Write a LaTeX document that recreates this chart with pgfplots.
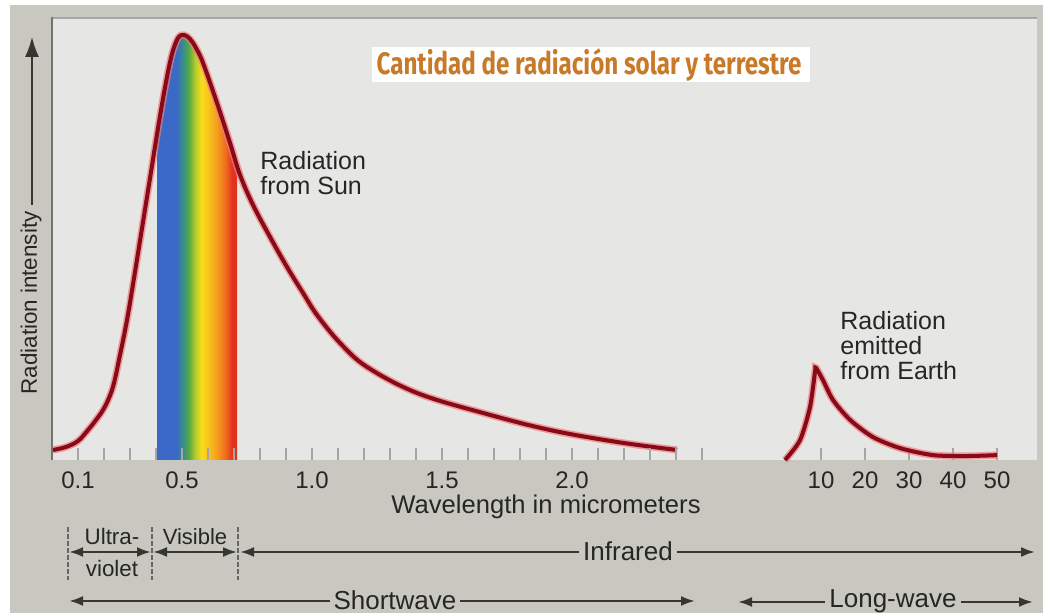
\documentclass[border=0pt]{standalone}
\usepackage{pgfplots}
\pgfplotsset{compat=1.18}
\usepackage{pgfplotstable}
\usepackage{fontspec}
\setmainfont{Liberation Sans}
\newfontfamily\titlefont[FakeStretch=0.78]{Fira Sans}
\usetikzlibrary{arrows.meta}

\definecolor{bandgray}{RGB}{200,199,192}
\definecolor{plotbg}{RGB}{230,231,228}
\definecolor{curvered}{RGB}{135,10,25}
\definecolor{halored}{RGB}{240,125,125}
\definecolor{titleorange}{RGB}{200,122,40}
\definecolor{txt}{RGB}{38,38,38}
\definecolor{linecol}{RGB}{55,55,50}
\definecolor{rbblue}{RGB}{58,105,200}
\definecolor{rbteal}{RGB}{55,140,140}
\definecolor{rbgreen}{RGB}{85,170,65}
\definecolor{rbygreen}{RGB}{185,205,45}
\definecolor{rbyellow}{RGB}{250,220,25}
\definecolor{rborange}{RGB}{245,160,30}
\definecolor{rbdorange}{RGB}{240,105,30}
\definecolor{rbred}{RGB}{225,50,30}

\pgfdeclarehorizontalshading{rainbow}{100bp}{color(0bp)=(rbblue); color(25bp)=(rbblue); color(37bp)=(rbblue); color(41bp)=(rbteal); color(45bp)=(rbgreen); color(49bp)=(rbygreen); color(53bp)=(rbyellow); color(57bp)=(rbyellow!60!rborange); color(62bp)=(rborange); color(68bp)=(rbdorange); color(72bp)=(rbred); color(75bp)=(rbred); color(100bp)=(rbred)}

% Sun curve: wavelength (micrometers) vs relative intensity
\pgfplotstableread{
x y
0.0038 2.27
0.0538 2.95
0.1000 4.31
0.1385 6.80
0.1692 9.07
0.1962 11.34
0.2192 14.06
0.2385 17.46
0.2615 23.81
0.2885 31.75
0.3192 42.63
0.3500 53.97
0.3808 65.31
0.4115 76.64
0.4385 85.71
0.4615 92.06
0.4846 95.69
0.5077 96.37
0.5308 95.46
0.5538 93.42
0.5808 90.02
0.6346 80.95
0.6846 71.88
0.7231 64.63
0.7731 57.82
0.8385 50.57
0.9038 43.76
0.9654 37.87
1.0192 32.88
1.1077 26.53
1.2115 21.09
1.4038 15.19
1.6577 10.66
1.9154 6.80
2.1731 4.08
2.4038 2.27
}\suntable

% Visible band under the sun curve
\pgfplotstableread{
x y
0.4038 73.8
0.4115 76.64
0.4385 85.71
0.4615 92.06
0.4846 95.69
0.5077 96.37
0.5308 95.46
0.5538 93.42
0.5808 90.02
0.6346 80.95
0.6846 71.88
0.7115 66.8
}\vistable

% Earth curve
\pgfplotstableread{
x y
1.82 0
5.23 4.5
7.5 12.0
8.64 20.0
8.86 20.9
10.45 18.1
12.73 13.6
16.6 9.1
21.8 5.2
27.95 2.7
35.45 1.1
43.2 0.9
50.0 1.1
}\earthtable

\begin{document}
\begin{tikzpicture}
\useasboundingbox (0,0) rectangle (523.5pt,306.5pt);
\begin{scope}[x=0.5pt,y=-0.5pt,shift={(0pt,306.5pt)}]
  \fill[white] (0,0) rectangle (1047,613);
  \fill[bandgray] (10,5) rectangle (1043,613);
  \fill[plotbg] (53,19) rectangle (1037,460);
  \draw[gray!90!black, line width=1pt] (52,17) -- (52,460);
  \draw[gray!70, line width=1.2pt] (53,18) -- (1037,18);
\end{scope}

\pgfplotsset{
  common/.style={
    at={(26.5pt,76.5pt)}, anchor=south west,
    width=492pt, height=220.5pt, scale only axis,
    ymin=0, ymax=100, clip=false,
    axis line style={draw=none},
    ytick=\empty, xtick pos=bottom,
    tick align=inside,
    major tick length=6pt, minor tick length=6pt,
    tick style={draw=gray!70, line width=0.9pt},
    xticklabel style={font=\fontsize{12}{14}\selectfont, text=txt, yshift=-2.5pt},
    /pgf/number format/assume math mode=true,
  }
}

\begin{axis}[common, axis on top,
  xmin=0.00385, xmax=3.788,
  xtick={0.1,0.5,1.0,1.5,2.0},
  xticklabels={0.1,0.5,1.0,1.5,2.0},
  minor xtick={0.2,0.3,0.4,0.6,0.7,0.8,0.9,1.1,1.2,1.3,1.4,1.6,1.7,1.8,1.9,2.1,2.2,2.3,2.4,2.5},
]
  \addplot[draw=none, shade, shading=rainbow, smooth, tension=0.6] table {\vistable} \closedcycle;
  \addplot[halored, opacity=0.7, line width=3.6pt, smooth, tension=0.6] table {\suntable};
  \addplot[curvered, line width=2pt, smooth, tension=0.6] table {\suntable};
\end{axis}

\begin{axis}[common,
  xmin=-164.545, xmax=59.091,
  xtick={10,20,30,40,50},
  xticklabels={10,20,30,40,50},
]
  \addplot[halored, opacity=0.7, line width=3.6pt, smooth, tension=0.45] table {\earthtable};
  \addplot[curvered, line width=2pt, smooth, tension=0.45] table {\earthtable};
\end{axis}

\begin{scope}[x=0.5pt,y=-0.5pt,shift={(0pt,306.5pt)}]
  % title
  \fill[white] (372,47) rectangle (810,82);
  \node[anchor=base, text=titleorange, inner sep=0pt,
        font=\titlefont\bfseries\fontsize{15.5}{17}\selectfont] at (589,75)
        {Cantidad de radiación solar y terrestre};
  % y axis arrow and label
  \draw[linecol, line width=0.8pt, -{Latex[length=10pt,width=7pt]}] (32,205) -- (32,37);
  \node[rotate=90, text=txt, font=\fontsize{11.2}{13}\selectfont] at (31,303) {Radiation intensity};
  % curve labels
  \begin{scope}[every node/.style={anchor=base west, inner sep=0pt, text=txt, font=\fontsize{12.5}{15}\selectfont}]
    \node at (260,170) {Radiation};
    \node at (260,195) {from Sun};
    \node at (840,330) {Radiation};
    \node at (840,355) {emitted};
    \node at (840,380) {from Earth};
  \end{scope}
  % x axis title
  \node[anchor=base, inner sep=0pt, text=txt, font=\fontsize{12.8}{15}\selectfont] at (546,514) {Wavelength in micrometers};
  % separators
  \foreach \xx in {68,152,238}
    \draw[gray!80!black, line width=0.6pt, dash pattern=on 2.5pt off 1pt] (\xx,527) -- (\xx,580);
  % band arrows
  \tikzset{band/.style={linecol, line width=1.2pt, {Latex[length=7pt,width=5pt]}-{Latex[length=7pt,width=5pt]}}}
  \draw[band] (69,552) -- (151,552);
  \draw[band] (153,552) -- (237,552);
  \draw[band] (240,552) -- (1035,552);
  \draw[band] (69,601) -- (695,601);
  \draw[band] (738,602) -- (1033,602);
  \node[anchor=base, inner sep=0pt, text=txt, font=\fontsize{11.2}{13}\selectfont] at (112,545) {Ultra-};
  \node[anchor=base, inner sep=0pt, text=txt, font=\fontsize{11.2}{13}\selectfont] at (112,577) {violet};
  \node[anchor=base, inner sep=0pt, text=txt, font=\fontsize{11}{13}\selectfont] at (195,545) {Visible};
  \node[fill=bandgray, inner sep=2pt, text=txt, font=\fontsize{13}{15}\selectfont] at (628,551) {Infrared};
  \node[fill=bandgray, inner sep=2pt, text=txt, font=\fontsize{13}{15}\selectfont] at (395,600) {Shortwave};
  \node[fill=bandgray, inner sep=2pt, text=txt, font=\fontsize{13}{15}\selectfont] at (893,601) {Long-wave};
\end{scope}
\end{tikzpicture}
\end{document}
